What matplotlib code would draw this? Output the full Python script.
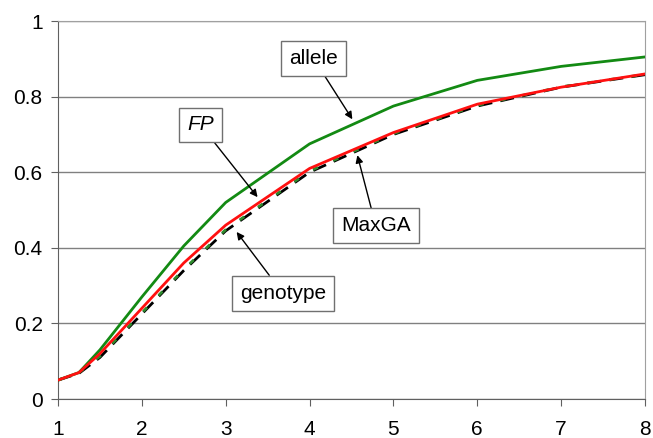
import matplotlib.pyplot as plt

plt.rcParams['font.family'] = ['Liberation Sans', 'DejaVu Sans']

# values
x = [1, 1.25, 1.5, 2, 2.5, 3, 4, 5, 6, 7, 8]
allele = [0.05, 0.07, 0.13, 0.27, 0.405, 0.52, 0.675, 0.775, 0.843, 0.88, 0.905]
fp = [0.05, 0.07, 0.12, 0.24, 0.36, 0.46, 0.61, 0.705, 0.78, 0.825, 0.86]
genotype = [0.05, 0.068, 0.11, 0.225, 0.34, 0.445, 0.60, 0.70, 0.775, 0.825, 0.858]
maxga = [0.05, 0.07, 0.113, 0.228, 0.343, 0.448, 0.603, 0.702, 0.777, 0.826, 0.859]

x_ticks = [1, 2, 3, 4, 5, 6, 7, 8]
y_ticks = [0, 0.2, 0.4, 0.6, 0.8, 1]
y_labels = ['0', '0.2', '0.4', '0.6', '0.8', '1']

fig = plt.figure(figsize=(6.53, 4.38), dpi=100)
ax = fig.add_axes([0.0888, 0.089, 0.899, 0.863])

ax.plot(x, allele, color='#138a13', lw=2.0, zorder=4)
ax.plot(x, genotype, color='black', lw=2.0, dashes=(5, 3), zorder=3)
ax.plot(x, maxga, color='#2e8b2e', lw=2.0, dashes=(2, 6), dash_capstyle='butt', zorder=3.5)
ax.plot(x, fp, color='#ff1010', lw=2.0, zorder=5)

ax.set_xlim(1, 8)
ax.set_ylim(0, 1)
ax.set_xticks(x_ticks)
ax.set_yticks(y_ticks)
ax.set_yticklabels(y_labels)
ax.tick_params(labelsize=15, color='#606060', length=5)
ax.tick_params(axis='x', pad=10)
ax.tick_params(axis='y', pad=6)
ax.grid(axis='y', color='#808080', lw=1.0)
ax.set_axisbelow(True)
for side in ['top', 'right']:
    ax.spines[side].set_color('#a0a0a0')
for side in ['left', 'bottom']:
    ax.spines[side].set_color('#606060')

box = dict(boxstyle='square,pad=0.38', fc='white', ec='#707070', lw=1.0)
arrow = dict(arrowstyle='-|>', color='black', lw=1.0, mutation_scale=11, shrinkA=0, shrinkB=0)

notes = [
    ('allele', (4.51, 0.74), (4.05, 0.90), 'normal'),
    ('FP', (3.38, 0.534), (2.70, 0.725), 'italic'),
    ('MaxGA', (4.57, 0.645), (4.79, 0.458), 'normal'),
    ('genotype', (3.13, 0.442), (3.68, 0.28), 'normal'),
]
for text, tip, pos, style in notes:
    ax.annotate(text, xy=tip, xytext=pos, ha='center', va='center', fontsize=15,
                style=style, bbox=box, arrowprops=arrow, zorder=6)

fig.savefig('out.png', dpi=100)
